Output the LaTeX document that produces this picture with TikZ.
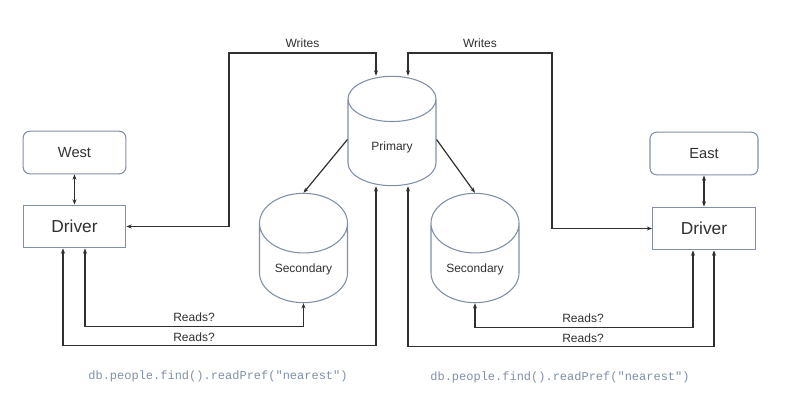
\documentclass[tikz,border=0pt]{standalone}
\usepackage{fontspec}
\setmainfont{Liberation Sans}
\setmonofont{Liberation Mono}
\usepackage{tikz}
\usetikzlibrary{shapes.geometric, calc, arrows.meta}

\definecolor{edgegray}{HTML}{7F8FA6}
\definecolor{linegray}{HTML}{303030}
\definecolor{codegray}{HTML}{8090A8}

\tikzset{
    box/.style={draw=edgegray, line width=0.8pt, minimum width=77pt, minimum height=32pt, text=linegray},
    region/.style={box, rounded corners=5pt, font=\fontsize{11}{13}\selectfont},
    driver/.style={box, font=\fontsize{13}{15}\selectfont},
    db/.style={draw=edgegray, line width=0.8pt, cylinder, shape border rotate=90, aspect=0.9,
        minimum width=66pt, minimum height=82pt, anchor=shape center, text=linegray,
        font=\fontsize{9}{11}\selectfont},
    link/.style={draw=linegray, line width=0.9pt, >={Stealth[length=4pt,width=3pt]}},
    lbl/.style={text=linegray, font=\fontsize{9}{11}\selectfont},
    code/.style={text=codegray, font=\ttfamily\fontsize{9}{11}\selectfont}
}

\begin{document}
\begin{tikzpicture}[x=0.75pt, y=-0.75pt]
    \useasboundingbox (0,0) rectangle (795,406);

    % Draw the regions and their drivers
    \node[region] (west) at (74.5,152.5) {West};
    \node[driver] (drvW) at (74.5,226.5) {Driver};
    \node[region, minimum width=81pt] (east) at (704,153.5) {East};
    \node[driver] (drvE) at (704,228.5) {Driver};

    % Draw the replica set members
    \node[db] (prim) at (392,131) {Primary};
    \node[db] (secW) at (303.5,248) {Secondary};
    \node[db] (secE) at (475,248) {Secondary};

    % Corners of the write paths
    \coordinate (cW) at (229,53);
    \coordinate (cE) at (552,53);

    % Region to driver
    \draw[link,<->] (west) -- (drvW);
    \draw[link,<->] (east) -- (drvE);

    % Writes go to the primary
    \draw[link,<->] (drvW.east) -| (cW) -| ($(prim.north)+(-16,0)$)
        node[lbl, pos=0.25, above] {Writes};
    \draw[link,<->] (drvE.west) -| (cE) -| ($(prim.north)+(16,0)$)
        node[lbl, pos=0.25, above] {Writes};

    % Replication
    \draw[link,->] ($(prim.west)+(0,-8)$) -- (secW.north);
    \draw[link,->] ($(prim.east)+(0,-8)$) -- (secE.north);

    % Reads on the west side
    \draw[link,<->] ($(drvW.south)+(10.5,0)$) |- ($(secW.south)+(0,23)$) -- (secW.south);
    \draw[link,<->] ($(drvW.south)+(-11.5,0)$) |- ($(prim.south)+(-16,159)$) -- ($(prim.south)+(-16,0)$);
    \node[lbl] (rdW1) at (194,317) {Reads?};
    \node[lbl] (rdW2) at (194,337) {Reads?};

    % Reads on the east side
    \draw[link,<->] ($(drvE.south)+(-11,0)$) |- ($(secE.south)+(0,24)$) -- (secE.south);
    \draw[link,<->] ($(drvE.south)+(10,0)$) |- ($(prim.south)+(16,160)$) -- ($(prim.south)+(16,0)$);
    \node[lbl] (rdE1) at (583,318) {Reads?};
    \node[lbl] (rdE2) at (583,338) {Reads?};

    % Read preference
    \node[code] (prefW) at (218,376) {db.people.find().readPref("nearest")};
    \node[code] (prefE) at (560,377) {db.people.find().readPref("nearest")};

\end{tikzpicture}
\end{document}
